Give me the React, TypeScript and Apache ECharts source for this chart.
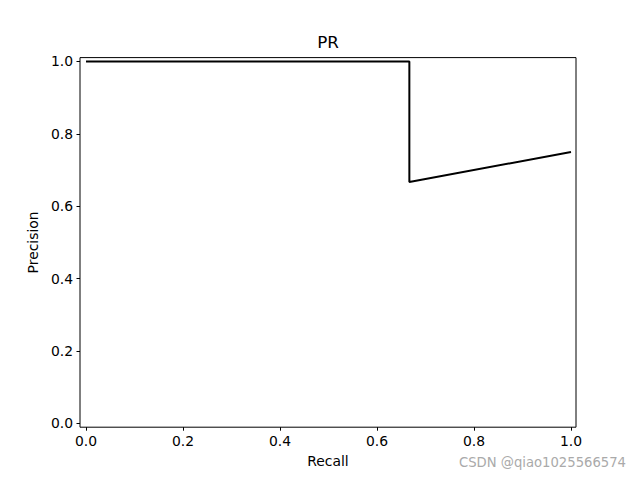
import React, { useEffect, useRef } from "react";
import * as echarts from "echarts";

const recall = [0, 0.3333, 0.6667, 0.6667, 1.0];
const precision = [1.0, 1.0, 1.0, 0.6667, 0.75];
const xTicks = [0, 0.2, 0.4, 0.6, 0.8, 1.0];
const yTicks = [0, 0.2, 0.4, 0.6, 0.8, 1.0];
const titleText = "PR";
const xName = "Recall";
const yName = "Precision";
const watermark = "CSDN @qiao1025566574";

const FONT = "DejaVu Sans";

export default function App() {
  const ref = useRef<HTMLDivElement>(null);
  useEffect(() => {
    if (!ref.current) return;
    const chart = echarts.init(ref.current, null, { renderer: "svg" });
    const data = recall.map((r, i) => [r, precision[i]]);
    chart.setOption({
      animation: false,
      backgroundColor: "#ffffff",
      textStyle: { fontFamily: FONT },
      grid: {
        left: 80,
        right: 64,
        top: 57.6,
        bottom: 52.8,
        show: true,
        borderColor: "#000",
        borderWidth: 1,
        backgroundColor: "transparent",
      },
      xAxis: {
        type: "value",
        min: -0.0124,
        max: 1.0103,
        name: xName,
        nameLocation: "middle",
        nameGap: 27,
        nameTextStyle: { fontFamily: FONT, fontSize: 13.9, color: "#000" },
        axisLine: { show: false, onZero: false },
        splitLine: { show: false },
        axisTick: {
          show: true,
          inside: false,
          length: 3.5,
          lineStyle: { color: "#000", width: 1 },
          customValues: xTicks,
        },
        axisLabel: {
          margin: 7,
          fontFamily: FONT,
          fontSize: 13.9,
          color: "#000",
          customValues: xTicks,
          formatter: (v: number) => v.toFixed(1),
        },
      },
      yAxis: {
        type: "value",
        min: -0.0105,
        max: 1.0105,
        name: yName,
        nameLocation: "middle",
        nameGap: 36,
        nameRotate: 90,
        nameTextStyle: { fontFamily: FONT, fontSize: 13.9, color: "#000" },
        axisLine: { show: false, onZero: false },
        splitLine: { show: false },
        axisTick: {
          show: true,
          inside: false,
          length: 3.5,
          lineStyle: { color: "#000", width: 1 },
          customValues: yTicks,
        },
        axisLabel: {
          margin: 7,
          fontFamily: FONT,
          fontSize: 13.9,
          color: "#000",
          customValues: yTicks,
          formatter: (v: number) => v.toFixed(1),
        },
      },
      series: [
        {
          type: "line",
          data,
          showSymbol: false,
          symbol: "none",
          lineStyle: { color: "#000", width: 2 },
        },
      ],
      graphic: [
        {
          type: "text",
          x: 328,
          y: 50,
          style: {
            text: titleText,
            font: `16.7px "${FONT}"`,
            fill: "#000",
            textAlign: "center",
            textVerticalAlign: "bottom",
          },
        },
        {
          type: "text",
          x: 626,
          y: 462,
          style: {
            text: watermark,
            font: `13.2px "${FONT}"`,
            fill: "#aaaaaa",
            textAlign: "right",
            textVerticalAlign: "middle",
          },
        },
      ],
    });
    return () => chart.dispose();
  }, []);
  return <div ref={ref} style={{ width: 640, height: 480, position: "absolute", left: 0, top: 0 }} />;
}
